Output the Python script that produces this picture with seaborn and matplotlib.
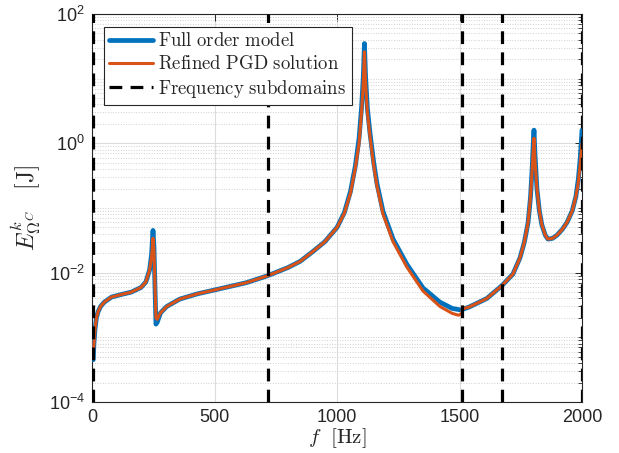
import matplotlib
matplotlib.use('Agg')
import matplotlib.pyplot as plt
import seaborn as sns
import pandas as pd
from matplotlib.ticker import FixedLocator, NullFormatter

# valeurs (f en Hz, energie en J)
freq_full = [5, 8, 12, 18, 25, 35, 50, 80, 120, 160, 200, 220, 235, 243, 249, 253, 257, 261, 266,
             280, 305, 358, 430, 500, 630, 718, 800, 850, 900, 950, 1000, 1030, 1055, 1075, 1090,
             1100, 1107, 1112, 1117, 1124, 1135, 1150, 1163, 1188, 1229, 1285, 1351, 1420, 1470,
             1505, 1540, 1612, 1673, 1718, 1747, 1765, 1780, 1790, 1797, 1801, 1804, 1808, 1816,
             1826, 1836, 1850, 1861, 1880, 1898, 1920, 1939, 1960, 1975, 1985, 1993, 2000]
energy_full = [4.5e-4, 8e-4, 1.3e-3, 2.0e-3, 2.5e-3, 3.0e-3, 3.5e-3, 4.2e-3, 4.6e-3, 5.0e-3, 5.9e-3,
               7.2e-3, 1.1e-2, 1.9e-2, 4.5e-2, 2.5e-2, 6e-3, 1.6e-3, 1.7e-3,
               2.4e-3, 3.0e-3, 3.9e-3, 4.7e-3, 5.4e-3, 7.0e-3, 9.0e-3, 1.2e-2, 1.5e-2, 2.1e-2, 3.0e-2,
               5.0e-2, 8.5e-2, 0.18, 0.45, 1.2,
               3.5, 10, 35, 10, 3.5, 1.4, 0.5, 0.24, 0.088, 0.033, 0.0135, 5.8e-3, 3.5e-3, 2.8e-3,
               2.65e-3, 2.95e-3, 4.0e-3, 6.3e-3, 9.5e-3, 1.7e-2, 3.0e-2, 6.0e-2, 0.15, 0.45, 1.0, 1.6,
               0.7, 0.2, 0.09, 0.055, 0.038, 0.033, 0.034, 0.038, 0.047, 0.06, 0.09, 0.15, 0.28, 0.6, 1.6]

freq_pgd = [5, 8, 12, 18, 25, 35, 50, 80, 120, 160, 200, 220, 235, 243, 249, 253, 257, 261, 266,
            280, 305, 358, 430, 500, 630, 718, 800, 850, 900, 950, 1000, 1030, 1055, 1075, 1090,
            1100, 1107, 1112, 1117, 1124, 1135, 1150, 1163, 1188, 1229, 1285, 1351, 1420, 1470,
            1495, 1508, 1512, 1540, 1612, 1673, 1718, 1747, 1765, 1780, 1790, 1797, 1801, 1804, 1808,
            1816, 1826, 1836, 1850, 1861, 1880, 1898, 1920, 1939, 1960, 1975, 1985, 1993, 2000]
energy_pgd = [5e-4, 8e-4, 1.3e-3, 2.0e-3, 2.5e-3, 3.0e-3, 3.5e-3, 4.2e-3, 4.6e-3, 5.0e-3, 5.9e-3,
              7.2e-3, 1.1e-2, 1.7e-2, 3.4e-2, 2.2e-2, 6.5e-3, 2.0e-3, 1.9e-3,
              2.4e-3, 3.0e-3, 3.9e-3, 4.7e-3, 5.4e-3, 7.0e-3, 9.0e-3, 1.2e-2, 1.5e-2, 2.1e-2, 3.0e-2,
              5.0e-2, 8.3e-2, 0.17, 0.42, 1.0,
              3.0, 8, 26, 8, 3.0, 1.25, 0.45, 0.22, 0.08, 0.03, 0.0122, 5.2e-3, 3.0e-3, 2.35e-3,
              2.2e-3, 2.3e-3, 2.75e-3, 2.95e-3, 4.0e-3, 6.3e-3, 9.5e-3, 1.7e-2, 3.0e-2, 6.0e-2, 0.15,
              0.42, 0.8, 1.2, 0.55, 0.2, 0.09, 0.055, 0.038, 0.033, 0.034, 0.038, 0.047, 0.06, 0.09,
              0.15, 0.25, 0.5, 1.0]

subdomain_edges = [5, 718, 1512, 1673, 2000]
x_ticks = [0, 500, 1000, 1500, 2000]
y_ticks = [1e-4, 1e-2, 1e0, 1e2]

df_full = pd.DataFrame({'f': freq_full, 'E': energy_full})
df_pgd = pd.DataFrame({'f': freq_pgd, 'E': energy_pgd})

sns.set_style('white')
plt.rcParams['font.family'] = ['Liberation Sans', 'DejaVu Sans']
plt.rcParams['mathtext.fontset'] = 'cm'

fig = plt.figure(figsize=(6.19, 4.53), dpi=100)
ax = fig.add_axes([92 / 619, 1 - 402 / 453, 490 / 619, 388 / 453])

sns.lineplot(data=df_full, x='f', y='E', ax=ax, color='#0072BD', linewidth=3.4, sort=False,
             estimator=None, label=r'$\mathrm{Full\ order\ model}$', zorder=3)
sns.lineplot(data=df_pgd, x='f', y='E', ax=ax, color='#D95319', linewidth=2.2, sort=False,
             estimator=None, label=r'$\mathrm{Refined\ PGD\ solution}$', zorder=4)
for i, fe in enumerate(subdomain_edges):
    ax.axvline(fe, color='black', linewidth=2.3, dashes=(4, 2.6), zorder=5,
               label=r'$\mathrm{Frequency\ subdomains}$' if i == 0 else None)

ax.set_yscale('log')
ax.set_xlim(0, 2000)
ax.set_ylim(1e-4, 1e2)
ax.xaxis.set_major_locator(FixedLocator(x_ticks))
ax.yaxis.set_major_locator(FixedLocator(y_ticks))
minor = [k * 10.0 ** n for n in range(-4, 2) for k in range(1, 10) if not (k == 1 and n % 2 == 0)]
ax.yaxis.set_minor_locator(FixedLocator(minor))
ax.yaxis.set_minor_formatter(NullFormatter())

ax.grid(True, which='major', color='#dcdcdc', linewidth=0.8)
ax.grid(True, which='minor', axis='y', color='#cfcfcf', linewidth=0.7, linestyle=':')
ax.set_axisbelow(True)

ax.tick_params(which='both', direction='in', top=True, right=True, colors='#262626',
               labelsize=13, pad=5)
ax.tick_params(which='major', length=5, width=0.7)
ax.tick_params(which='minor', length=3, width=0.6)
for s in ax.spines.values():
    s.set_color('#262626')
    s.set_linewidth(0.8)

ax.set_xlabel(r'$f\ \ [\mathrm{Hz}]$', fontsize=15, labelpad=0)
ax.set_ylabel(r'$E^{k}_{\Omega^{C}}\quad[\mathrm{J}]$', fontsize=17, labelpad=4)

leg = ax.legend(loc='upper left', bbox_to_anchor=(0.024, 0.967), borderaxespad=0,
                fontsize=13.5, handlelength=2.3, handletextpad=0.3, labelspacing=0.25,
                borderpad=0.3, fancybox=False, framealpha=1, edgecolor='#262626')
leg.get_frame().set_linewidth(0.8)

plt.savefig('out.png', dpi=100)
